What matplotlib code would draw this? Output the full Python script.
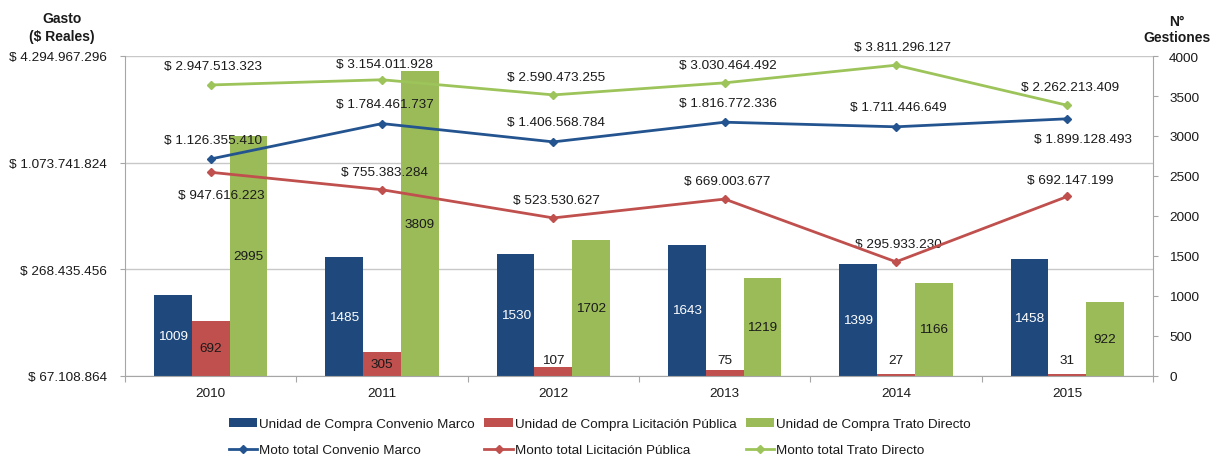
import numpy as np
import matplotlib
matplotlib.use('Agg')
import matplotlib.pyplot as plt
from matplotlib.ticker import NullLocator

plt.rcParams['font.family'] = ['Liberation Sans', 'DejaVu Sans']

years = ['2010', '2011', '2012', '2013', '2014', '2015']

# N° gestiones (right axis, bars)
uc_convenio = [1009, 1485, 1530, 1643, 1399, 1458]
uc_licitacion = [692, 305, 107, 75, 27, 31]
uc_trato = [2995, 3809, 1702, 1219, 1166, 922]

# montos (left axis, log)
mt_convenio = [1126355410, 1784461737, 1406568784, 1816772336, 1711446649, 1899128493]
mt_licitacion = [947616223, 755383284, 523530627, 669003677, 295933230, 692147199]
mt_trato = [2947513323, 3154011928, 2590473255, 3030464492, 3811296127, 2262213409]

left_ticks = [2**26, 2**28, 2**30, 2**32]
right_ticks = list(range(0, 4001, 500))

BLUE = '#1F497D'
RED = '#C0504D'
GREEN = '#9BBB59'
LBLUE = '#24548F'
LGREEN = '#9DC45A'
GRID = '#C8C8C8'
SPINE = '#A6A6A6'
TXT = '#1a1a1a'
FS = 9.7


def money(v):
    return '$ ' + f'{v:,}'.replace(',', '.')


fig = plt.figure(figsize=(12.18, 4.6), dpi=100)
ax = fig.add_axes([125/1218, 83/460, 1028/1218, 320/460])
ax2 = ax.twinx()

x = np.arange(len(years))
w = 0.22

# gridlines (log positions) drawn behind bars
for t in left_ticks:
    ax.axhline(4000 * (np.log2(t) - 26) / 6, color=GRID, lw=1.0, zorder=0)

b1 = ax.bar(x - w, uc_convenio, w, color=BLUE, zorder=2, label='Unidad de Compra Convenio Marco')
b2 = ax.bar(x, uc_licitacion, w, color=RED, zorder=2, label='Unidad de Compra Licitación Pública')
b3 = ax.bar(x + w, uc_trato, w, color=GREEN, zorder=2, label='Unidad de Compra Trato Directo')

for bars, vals, col in [(b1, uc_convenio, 'white'), (b2, uc_licitacion, TXT), (b3, uc_trato, TXT)]:
    for rect, v in zip(bars, vals):
        cx = rect.get_x() + rect.get_width() / 2
        if v < 200:
            ax.annotate(str(v), (cx, 0), xytext=(0, 11.5), textcoords='offset points',
                        ha='center', va='center', fontsize=FS, color=TXT, zorder=5)
        else:
            ax.text(cx, v / 2, str(v), ha='center', va='center', fontsize=FS, color=col, zorder=5)

ax.set_xlim(-0.5, 5.5)
ax.set_ylim(0, 4000)
ax.yaxis.tick_right()
ax.set_yticks(right_ticks)
ax.tick_params(axis='y', direction='out', length=3.6, color=SPINE, pad=8, labelsize=FS, labelcolor=TXT)
ax.set_xticks(np.arange(-0.5, 6, 1))
ax.set_xticklabels([])
ax.set_xticks(x, minor=True)
ax.set_xticklabels(years, minor=True)
ax.tick_params(axis='x', which='major', direction='out', length=4, color=SPINE)
ax.tick_params(axis='x', which='minor', length=0, pad=8, labelsize=FS, labelcolor=TXT)
for s in ['left', 'right', 'bottom']:
    ax.spines[s].set_color(SPINE)
ax.spines['top'].set_visible(False)

# lines on log axis
l1, = ax2.plot(x, mt_convenio, color=LBLUE, lw=2, marker='D', ms=4.5, zorder=4, label='Moto total Convenio Marco')
l2, = ax2.plot(x, mt_licitacion, color=RED, lw=2, marker='D', ms=4.5, zorder=4, label='Monto total Licitación Pública')
l3, = ax2.plot(x, mt_trato, color=LGREEN, lw=2, marker='D', ms=4.5, zorder=4, label='Monto total Trato Directo')

ax2.set_yscale('log', base=2)
ax2.set_ylim(2**26, 2**32)
ax2.yaxis.tick_left()
ax2.set_yticks(left_ticks)
ax2.set_yticklabels([money(t) for t in left_ticks])
ax2.yaxis.set_minor_locator(NullLocator())
ax2.tick_params(axis='y', direction='out', length=3.6, color=SPINE, pad=9.5, labelsize=FS, labelcolor=TXT)
for s in ax2.spines.values():
    s.set_visible(False)

# value labels: (dx, dy) in points
conv_off = [(2, 14), (2, 14), (2, 14), (2, 14), (2, 14), (11, -14.5)]
lic_off = [(8, -16), (2, 13), (2, 13), (2, 13), (2, 13), (2, 12)]
trato_off = [(2, 14), (2, 11), (2, 13), (2, 13), (5, 13), (2, 13)]
for vals, offs in [(mt_convenio, conv_off), (mt_licitacion, lic_off), (mt_trato, trato_off)]:
    for xi, v, (dx, dy) in zip(x, vals, offs):
        ax2.annotate(money(v), (xi, v), xytext=(dx, dy), textcoords='offset points',
                     ha='center', va='center', fontsize=FS, color=TXT)

fig.text(62/1218, 1 - 28/460, 'Gasto\n($ Reales)', ha='center', va='center',
         fontsize=FS + 0.3, fontweight='bold', color=TXT, linespacing=1.3)
fig.text(1177/1218, 1 - 30/460, 'N°\nGestiones', ha='center', va='center',
         fontsize=FS + 0.3, fontweight='bold', color=TXT, linespacing=1.2)

fig.legend([b1, l1, b2, l2, b3, l3],
           [b1.get_label(), l1.get_label(), b2.get_label(), l2.get_label(), b3.get_label(), l3.get_label()],
           ncol=3, loc='upper left', bbox_to_anchor=(229/1218, 1 - 419/460), frameon=False,
           fontsize=FS, borderpad=0, borderaxespad=0, handlelength=2.1, handleheight=0.6,
           handletextpad=0.15, columnspacing=0.7, labelspacing=1.05, labelcolor=TXT)

fig.savefig('out.png', dpi=100)
